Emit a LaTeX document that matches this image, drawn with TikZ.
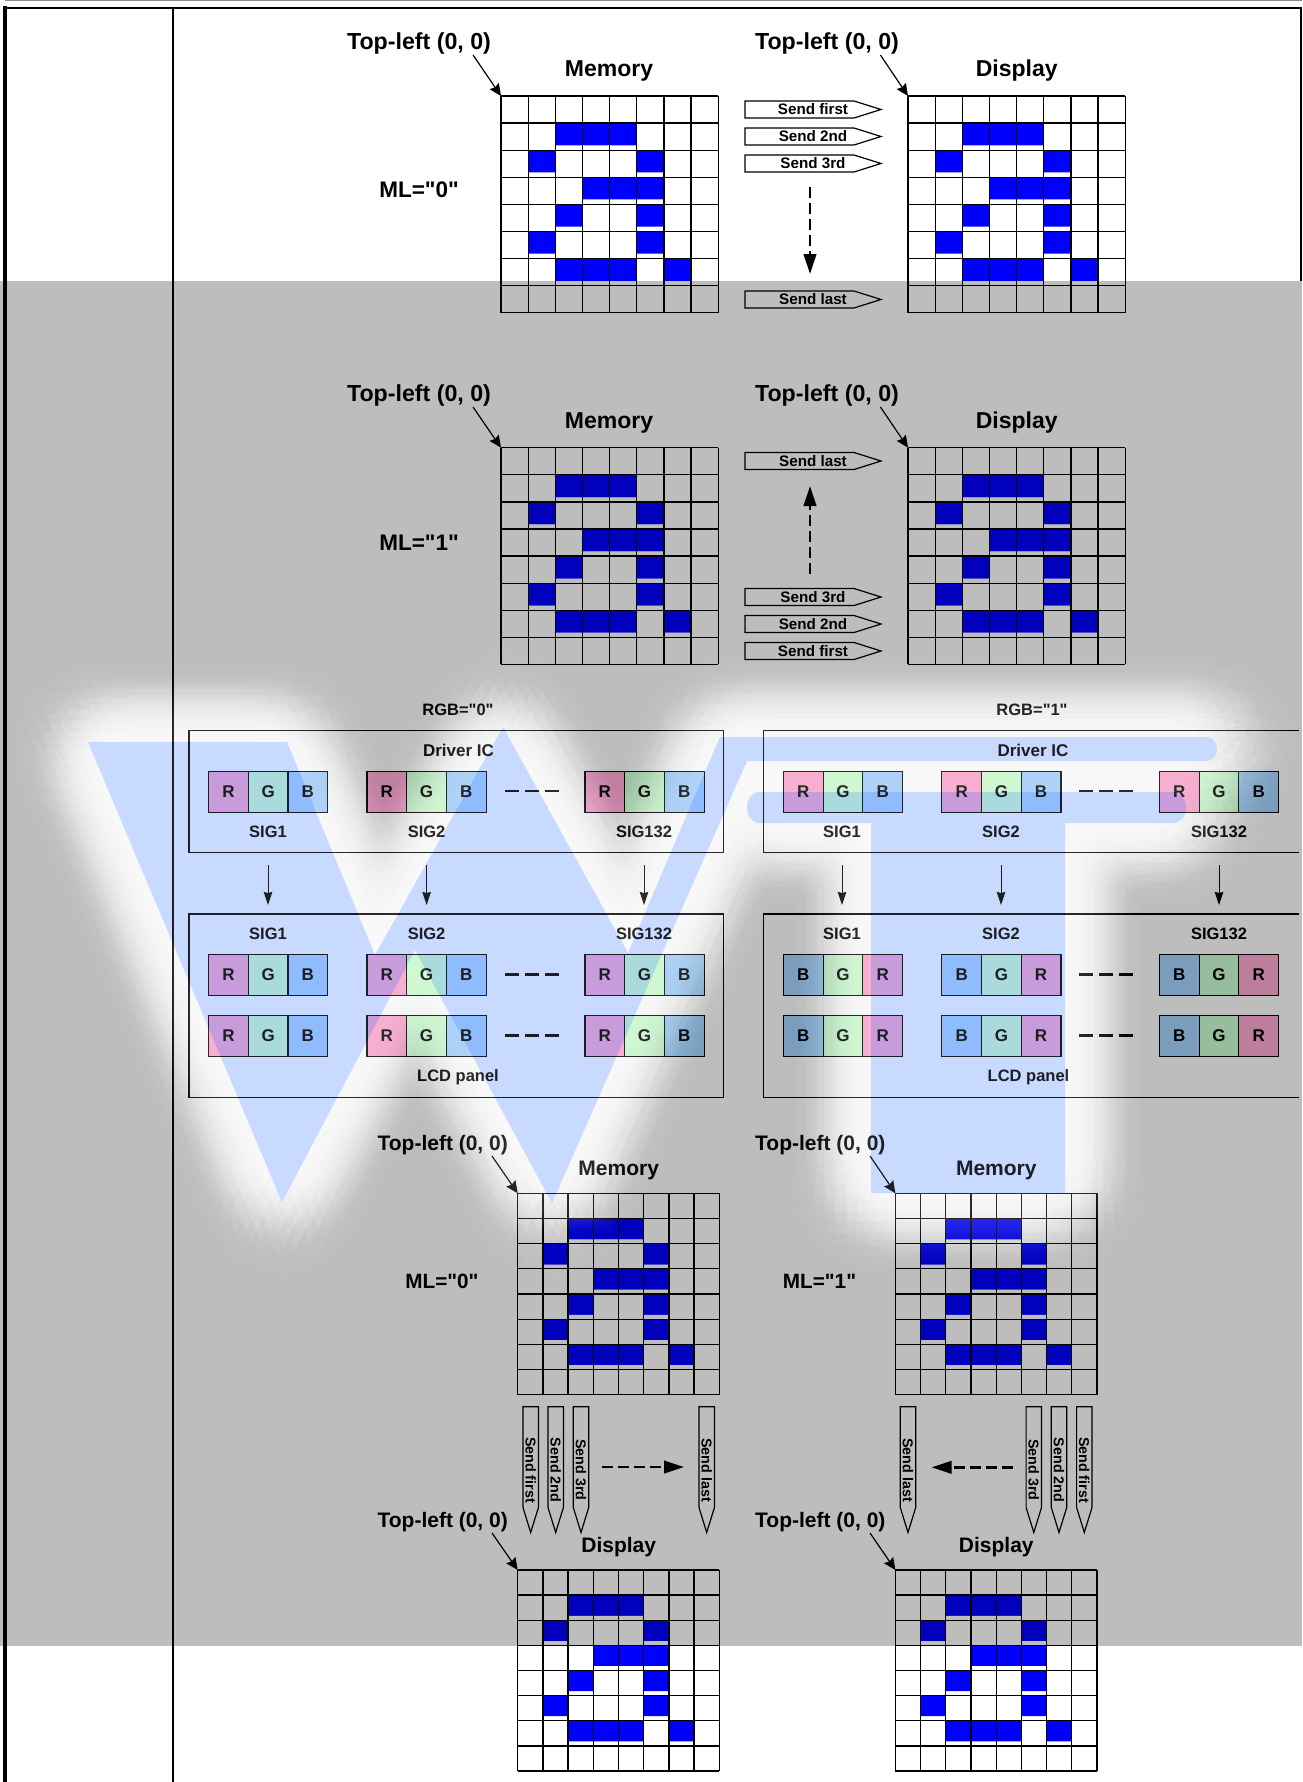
\documentclass[tikz,border=0pt]{standalone}
\usepackage{fontspec}
\setmainfont[Ligatures=TeXOff]{Liberation Sans}
\usetikzlibrary{arrows.meta}
\definecolor{bandgray}{RGB}{189,189,189}
\definecolor{wmblue}{RGB}{200,218,255}
\definecolor{pinkc}{RGB}{255,170,212}
\definecolor{pinkband}{RGB}{189,126,157}
\definecolor{pinkwm}{RGB}{200,145,212}
\definecolor{greenc}{RGB}{210,255,215}
\definecolor{greenband}{RGB}{152,189,156}
\definecolor{greenwm}{RGB}{165,218,215}
\definecolor{bluec}{RGB}{170,215,255}
\definecolor{blueband}{RGB}{122,157,189}
\definecolor{bluewm}{RGB}{133,184,255}
\definecolor{cellblue}{RGB}{0,0,255}
\definecolor{cellbluedark}{RGB}{0,0,189}
\tikzset{
  lab/.style={inner sep=0pt,outer sep=0pt,font=\bfseries\fontsize{#1}{#1}\selectfont},
  gridline/.style={line width=1.3pt,black},
  pointer/.style={line width=1.2pt,-{Stealth[length=12pt,width=11pt,inset=1.5pt]}},
  sigarrow/.style={line width=1pt,-{Stealth[length=13pt,width=8.5pt,inset=1pt]}},
  flowarrow/.style={line width=2.4pt,dash pattern=on 11pt off 5pt,-{Triangle[length=20pt,width=12.5pt]}},
  sendbox/.style={line width=1.2pt,black},
  panel/.style={line width=1.2pt,black},
  cellbox/.style={draw=black,line width=1.2pt,inner sep=0pt,outer sep=0pt,minimum width=39.7pt,minimum height=41pt,font=\bfseries\fontsize{17}{17}\selectfont},
  triple/.style={line width=2.6pt,dash pattern=on 14pt off 6pt}
}
\newcommand{\dotgrid}[4]{%
  \foreach \i in {0,...,8}{
    \draw[gridline] ({#1+\i*#3},#2) -- ++(0,{8*#4});
    \draw[gridline] (#1,{#2+\i*#4}) -- ++({8*#3},0);
  }
}
\newcommand{\sendright}[3]{%
  \draw[sendbox] (745,{#2-8.5}) -- (854,{#2-8.5}) -- (881,#2) -- (854,{#2+8.5}) -- (745,{#2+8.5}) -- cycle;
  \node[lab=15.2] (#1) at (813,#2) {#3};
}
\newcommand{\senddown}[3]{%
  \draw[sendbox] ({#2-7.7},1406.7) -- ({#2+7.7},1406.7) -- ({#2+7.7},1507.5) -- (#2,1532.5) -- ({#2-7.7},1507.5) -- cycle;
  \node[lab=14.3,rotate=-90] (#1) at (#2,1470) {#3};
}
\newcommand{\triplet}[5]{%
  \node[cellbox] (#1a) at ({#2+19.85},#3) {#4};
  \node[cellbox] (#1b) at ({#2+59.55},#3) {G};
  \node[cellbox] (#1c) at ({#2+99.25},#3) {#5};
}
\newcommand{\wtpath}{%
  (88,742) -- (287,742) -- (375,955) -- (503,727) -- (628,953) -- (720,737) -- (1205,737)
  .. controls (1213,737) and (1217,742) .. (1217,749)
  .. controls (1217,756) and (1213,761) .. (1205,761)
  -- (747,761) -- (552,1203) -- (415,950) -- (282,1202) -- cycle
  (760,792) -- (1173,792)
  .. controls (1181,792) and (1186,799) .. (1186,807.5)
  .. controls (1186,816) and (1181,823) .. (1173,823)
  -- (1065,823) -- (1065,1193) -- (871,1193) -- (871,823) -- (760,823)
  .. controls (752,823) and (747,816) .. (747,807.5)
  .. controls (747,799) and (752,792) .. (760,792) -- cycle
}
% the glow is a soft blur: offset copies of the letters, on a sunflower spiral, with Gaussian weights
\gdef\kernellist{0/0/0}
\foreach \i in {1,...,280}{
  \pgfmathsetmacro{\rr}{105*sqrt(\i/280)}
  \pgfmathsetmacro{\ang}{10*mod(\i*13.7508,36)}
  \pgfmathsetmacro{\dxx}{\rr*cos(\ang)}
  \pgfmathsetmacro{\dyy}{\rr*sin(\ang)}
  \pgfmathsetmacro{\wgt}{(105*105/280/(2*33*33))*exp(-\rr*\rr/(2*33*33))}
  \pgfmathsetmacro{\alf}{1-exp(-14*\wgt)}
  \xdef\kernellist{\kernellist,\dxx/\dyy/\alf}
}
\newcommand{\glow}[1]{%
  \foreach \dxx/\dyy/\alf in \kernellist{
    \fill[#1,fill opacity=\alf,shift={(\dxx,\dyy)}] \wtpath;
  }
}
% a weak glow over lines and letters, #1 colour, #2 strength
\newcommand{\halolayers}[2]{%
  \foreach \d in {80,75,...,10}{
    \pgfmathsetmacro{\tn}{(85-\d)/75}
    \pgfmathsetmacro{\tp}{(80-\d)/75}
    \pgfmathsetmacro{\cn}{#2*(3*\tn*\tn-2*\tn*\tn*\tn)}
    \pgfmathsetmacro{\cp}{#2*(3*\tp*\tp-2*\tp*\tp*\tp)}
    \pgfmathsetmacro{\al}{min(1,(\cn-\cp)/(1-\cp))}
    \draw[#1,line width={2*\d*1pt},line join=bevel,draw opacity=\al] \wtpath;
  }
}
% page colour, band colour, glow colour, watermark colour
\newcommand{\maskdraw}[4]{%
  \fill[#1] (0,0) rectangle (1302,1782);
  \fill[#2] (0,281) rectangle (1302,1646);
  \glow{#3}
  \fill[#4] \wtpath;
}
\begin{document}
\begin{tikzpicture}[x=1pt,y=-1pt]
\useasboundingbox (0,0) rectangle (1302,1782);

% band and watermark
\maskdraw{white}{bandgray}{white}{wmblue}

% coloured sub-pixel cells: the same band and watermark, tinted
\begin{scope}
  \clip \foreach \xx in {208.6,367,585}{\foreach \yy in {771.2,954.5,1015.5}{(\xx,\yy) rectangle ++(39.7,41)}}
        \foreach \xx in {783.4,941.8,1159.4}{(\xx,771.2) rectangle ++(39.7,41)
          ({\xx+79.4},954.5) rectangle ++(39.7,41) ({\xx+79.4},1015.5) rectangle ++(39.7,41)};
  \maskdraw{pinkc}{pinkband}{pinkc}{pinkwm}
\end{scope}
\begin{scope}
  \clip \foreach \xx in {208.6,367,585,783.4,941.8,1159.4}{\foreach \yy in {771.2,954.5,1015.5}{({\xx+39.7},\yy) rectangle ++(39.7,41)}};
  \maskdraw{greenc}{greenband}{greenc}{greenwm}
\end{scope}
\begin{scope}
  \clip \foreach \xx in {208.6,367,585}{\foreach \yy in {771.2,954.5,1015.5}{({\xx+79.4},\yy) rectangle ++(39.7,41)}}
        \foreach \xx in {783.4,941.8,1159.4}{({\xx+79.4},771.2) rectangle ++(39.7,41)
          (\xx,954.5) rectangle ++(39.7,41) (\xx,1015.5) rectangle ++(39.7,41)};
  \maskdraw{bluec}{blueband}{bluec}{bluewm}
\end{scope}
% blue pixels of the glyph
\begin{scope}
  \clip \foreach \gx/\gy/\gw/\gh in {501/96/27.15/27.09,908/96/27.15/27.09,501/447.7/27.15/27.09,908/447.7/27.15/27.09,517.7/1193.3/25.2/25.17,895.4/1193.3/25.2/25.17,517.7/1570/25.2/25.12,895.4/1570/25.2/25.12}{
    \foreach \c/\r in {2/1,3/1,4/1,1/2,5/2,3/3,4/3,5/3,2/4,5/4,1/5,5/5,2/6,3/6,4/6,6/6}{
      ({\gx+\c*\gw},{\gy+\r*\gh}) rectangle ++(\gw,{.82*\gh})}};
  \maskdraw{cellblue}{cellbluedark}{cellblue}{cellblue}
\end{scope}

% frame
\draw[line width=1pt,gray!90] (5,0.5) -- (1302,0.5);
\draw[line width=3.5pt,black] (5.2,6.5) -- (5.2,1782);
\draw[line width=2.4pt,black] (3.5,8) -- (1302,8);
\draw[line width=2.4pt,black] (1300.8,8) -- (1300.8,281);
\draw[line width=2pt,black] (173,8) -- (173,1782);

% block 1: ML="0"
\coordinate (g1) at (501,96);
\coordinate (g2) at (908,96);
\dotgrid{501}{96}{27.15}{27.09}
\dotgrid{908}{96}{27.15}{27.09}
\node[lab=23.2] (tl1) at (419,43.5) {Top-left (0, 0)};
\node[lab=23.2] (tl2) at (827,43.5) {Top-left (0, 0)};
\coordinate (tl1s) at (473,55);
\coordinate (tl2s) at (880.4,55);
\draw[pointer] (tl1s) -- (g1);
\draw[pointer] (tl2s) -- (g2);
\node[lab=23] (mem1) at (609,71) {Memory};
\node[lab=23] (dis1) at (1016.7,71) {Display};
\node[lab=22.5] (ml1) at (419,190) {ML="0"};
\sendright{s1a}{109.5}{Send first}
\sendright{s1b}{136.5}{Send 2nd}
\sendright{s1c}{163.5}{Send 3rd}
\sendright{s1d}{299.5}{Send last}
\coordinate (fa1) at (810,187);
\coordinate (fa1e) at (810,274);
\draw[flowarrow] (fa1) -- (fa1e);

% block 2: ML="1"
\coordinate (g3) at (501,447.7);
\coordinate (g4) at (908,447.7);
\dotgrid{501}{447.7}{27.15}{27.09}
\dotgrid{908}{447.7}{27.15}{27.09}
\node[lab=23.2] (tl3) at (419,395.5) {Top-left (0, 0)};
\node[lab=23.2] (tl4) at (827,395.5) {Top-left (0, 0)};
\coordinate (tl3s) at (473,407);
\coordinate (tl4s) at (880.4,407);
\draw[pointer] (tl3s) -- (g3);
\draw[pointer] (tl4s) -- (g4);
\node[lab=23] (mem2) at (609,423) {Memory};
\node[lab=23] (dis2) at (1016.7,423) {Display};
\node[lab=22.5] (ml2) at (419,542.5) {ML="1"};
\sendright{s2d}{461}{Send last}
\sendright{s2c}{597}{Send 3rd}
\sendright{s2b}{624}{Send 2nd}
\sendright{s2a}{651}{Send first}
\coordinate (fa2) at (810,574);
\coordinate (fa2e) at (810,486);
\draw[flowarrow] (fa2) -- (fa2e);

% RGB="0"
\node[lab=16.5] (rgb0) at (458,710) {RGB="0"};
\draw[panel] (189,730.7) rectangle (723.5,852.7);
\draw[panel] (189,914) rectangle (723.5,1097.3);
\node[lab=17] (drv0) at (458.5,750) {Driver IC};
\node[lab=16.5] (lcd0) at (458,1077) {LCD panel};
\foreach \nm/\xx in {p/208.6,q/367,r/585}{
  \triplet{a\nm}{\xx}{791.7}{R}{B}
  \triplet{b\nm}{\xx}{975}{R}{B}
  \triplet{c\nm}{\xx}{1036}{R}{B}
}
\foreach \yy in {791,974.7,1035.7} \draw[triple] (505,\yy) -- (559,\yy);
\foreach \nm/\xx/\tx in {p/268/SIG1,q/426.6/SIG2,r/644/SIG132}{
  \node[lab=16.5] (sa\nm) at (\xx,832) {\tx};
  \node[lab=16.5] (sb\nm) at (\xx,934) {\tx};
  \coordinate (ua\nm) at (\xx,865);
  \coordinate (ub\nm) at (\xx,905);
  \draw[sigarrow] (ua\nm) -- (ub\nm);
}

% RGB="1"
\node[lab=16.5] (rgb1) at (1032,710) {RGB="1"};
\draw[panel] (1299,730.7) -- (763.3,730.7) -- (763.3,852.7) -- (1299,852.7);
\draw[panel] (1299,914) -- (763.3,914) -- (763.3,1097.3) -- (1299,1097.3);
\node[lab=17] (drv1) at (1033,750) {Driver IC};
\node[lab=16.5] (lcd1) at (1028.5,1077) {LCD panel};
\foreach \nm/\xx in {p/783.4,q/941.8,r/1159.4}{
  \triplet{d\nm}{\xx}{791.7}{R}{B}
  \triplet{e\nm}{\xx}{975}{B}{R}
  \triplet{f\nm}{\xx}{1036}{B}{R}
}
\foreach \yy in {791,974.7,1035.7} \draw[triple] (1079,\yy) -- (1133.5,\yy);
\foreach \nm/\xx/\tx in {p/842/SIG1,q/1001/SIG2,r/1219/SIG132}{
  \node[lab=16.5] (sc\nm) at (\xx,832) {\tx};
  \node[lab=16.5] (sd\nm) at (\xx,934) {\tx};
  \coordinate (uc\nm) at (\xx,865);
  \coordinate (ud\nm) at (\xx,905);
  \draw[sigarrow] (uc\nm) -- (ud\nm);
}

% bottom: memory grids
\coordinate (g5) at (517.7,1193.3);
\coordinate (g6) at (895.4,1193.3);
\coordinate (g7) at (517.7,1570);
\coordinate (g8) at (895.4,1570);
\dotgrid{517.7}{1193.3}{25.2}{25.17}
\dotgrid{895.4}{1193.3}{25.2}{25.17}
\dotgrid{517.7}{1570}{25.2}{25.12}
\dotgrid{895.4}{1570}{25.2}{25.12}
\node[lab=21] (tl5) at (442.7,1145) {Top-left (0, 0)};
\node[lab=21] (tl6) at (820.3,1145) {Top-left (0, 0)};
\node[lab=21] (tl7) at (442.7,1522) {Top-left (0, 0)};
\node[lab=21] (tl8) at (820.3,1522) {Top-left (0, 0)};
\coordinate (tl5s) at (492,1156);
\coordinate (tl6s) at (870,1156);
\coordinate (tl7s) at (492,1533);
\coordinate (tl8s) at (870,1533);
\draw[pointer] (tl5s) -- (g5);
\draw[pointer] (tl6s) -- (g6);
\draw[pointer] (tl7s) -- (g7);
\draw[pointer] (tl8s) -- (g8);
\node[lab=21] (mem3) at (618.7,1170) {Memory};
\node[lab=21] (mem4) at (996.3,1170) {Memory};
\node[lab=21] (dis3) at (618.7,1547.5) {Display};
\node[lab=21] (dis4) at (996.3,1547.5) {Display};
\node[lab=20.7] (ml3) at (442,1281) {ML="0"};
\node[lab=20.7] (ml4) at (819.5,1281) {ML="1"};
\senddown{v1}{530.7}{Send first}
\senddown{v2}{555.7}{Send 2nd}
\senddown{v3}{581}{Send 3rd}
\senddown{v4}{706.7}{Send last}
\senddown{w4}{908}{Send last}
\senddown{w3}{1033.8}{Send 3rd}
\senddown{w2}{1059}{Send 2nd}
\senddown{w1}{1084.3}{Send first}
\coordinate (fa3) at (602,1467);
\coordinate (fa3e) at (684,1467);
\coordinate (fa4) at (1012.7,1467.3);
\coordinate (fa4e) at (931.7,1467.3);
\draw[flowarrow] (fa3) -- (fa3e);
\draw[flowarrow] (fa4) -- (fa4e);

% the watermark lies a little over the lines and letters
\begin{scope}[even odd rule]
  \clip (0,0) rectangle (1302,1782) \wtpath;
  \halolayers{white}{0.2}
\end{scope}
\fill[wmblue,fill opacity=0.14] \wtpath;
\end{tikzpicture}
\end{document}
